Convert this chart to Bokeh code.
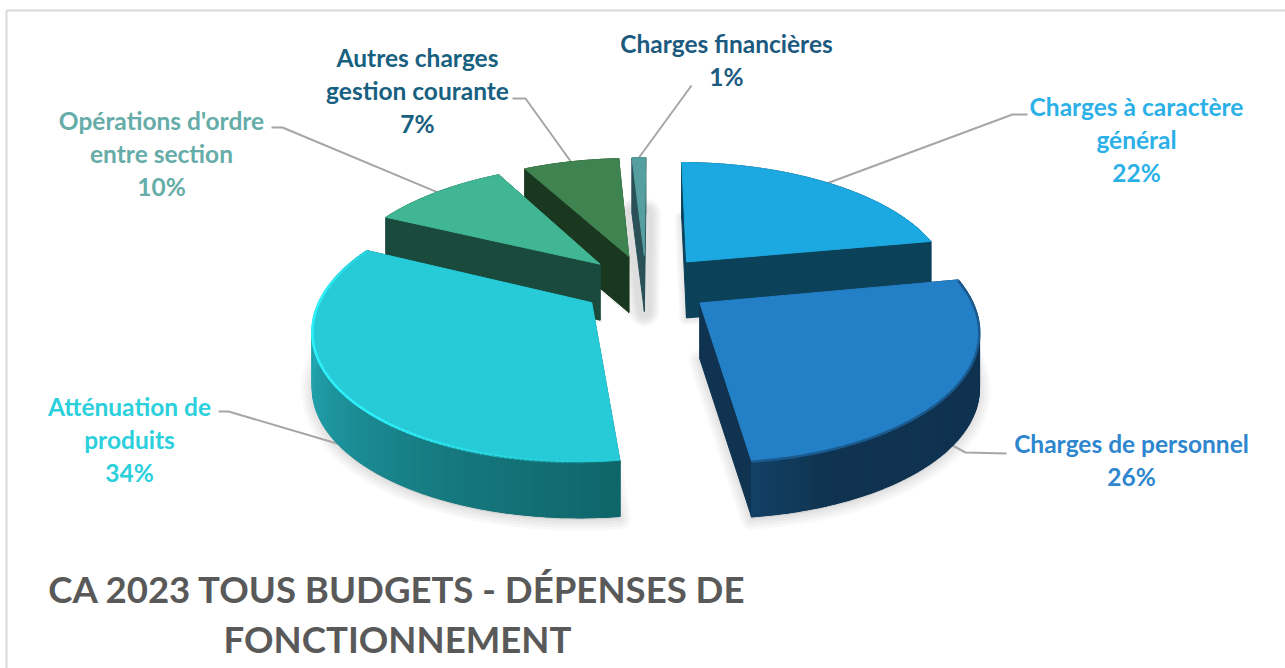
import numpy as np
from bokeh.plotting import figure
from bokeh.embed import file_html
from bokeh.resources import INLINE
from bokeh.core.properties import value

# ---- data (clockwise from 12 o'clock)
categories = ["Charges à caractère général", "Charges de personnel", "Atténuation de produits",
              "Opérations d'ordre entre section", "Autres charges gestion courante", "Charges financières"]
shares = [22, 26, 34, 10, 7, 1]
label_lines = [["Charges à caractère", "général"], ["Charges de personnel"], ["Atténuation de", "produits"],
               ["Opérations d'ordre", "entre section"], ["Autres charges", "gestion courante"], ["Charges financières"]]
title_lines = ["CA 2023 TOUS BUDGETS - DÉPENSES DE", "FONCTIONNEMENT"]

# ---- styles
top_colors = ["#1CA8E0", "#2480C6", "#27CBD8", "#40B694", "#3F8450", "#559FA0"]
wall_colors = ["#0B4159", "#0F3350", "#14696E", "#1A4A3B", "#1A3820", "#2A5058"]
label_colors = ["#2BB0E8", "#2E86CF", "#2BD0DC", "#66ACA8", "#17607F", "#1C5A80"]
rim_stops = {1: [(0, "#0F3350"), (.85, "#0F3350"), (1, "#124064")],
             2: [(0, "#0F666A"), (.25, "#16797F"), (.6, "#209CA6"), (1, "#27B4C0")]}
draw_order = [5, 4, 3, 0, 2, 1]
label_xy = [(1136, 106), (1131, 443), (129, 406), (161, 120), (417, 57), (726, 43)]
elbows = [[(1012, 114), (1027, 114)], [(965, 452), (1006, 453)], [(228, 411), (218, 411)],
          [(282, 127), (271, 127)], [(525, 98), (512, 98)], [(691, 85)]]

# ---- projection of the exploded disc
CX, CY, A, B, K, EXPL, DEPTH, ROT = 645.5, 284, 266, 124, 0.175, 0.245, 56, np.radians(0.3)

def proj(X, Z, drop=0.0):
    s = 1 / (1 - K * Z)
    return CX + A * X * s, CY + B * Z * s + drop

def hex2rgb(h):
    return np.array([int(h[i:i + 2], 16) for i in (1, 3, 5)], float)

def mix(stops, f):
    for (f0, c0), (f1, c1) in zip(stops, stops[1:]):
        if f <= f1:
            t = (f - f0) / (f1 - f0) if f1 > f0 else 0
            r = hex2rgb(c0) * (1 - t) + hex2rgb(c1) * t
            return "#%02x%02x%02x" % tuple(int(round(v)) for v in r)
    return stops[-1][1]

edges = np.cumsum([0] + shares) / sum(shares) * 2 * np.pi + ROT
slices = []
for i in range(len(shares)):
    a0, a1 = edges[i], edges[i + 1]
    mid = (a0 + a1) / 2
    ox, oz = EXPL * np.sin(mid), -EXPL * np.cos(mid)
    th = np.linspace(a0, a1, max(8, int(shares[i] * 4)))
    rx, rz = ox + np.sin(th), oz - np.cos(th)
    slices.append(dict(th=th, rx=rx, rz=rz, ox=ox, oz=oz, mid=mid))

p = figure(width=1285, height=668, x_range=(0, 1285), y_range=(668, 0), toolbar_location=None,
           output_backend="svg", min_border=0, outline_line_color=None, background_fill_color="white",
           styles={"position": "absolute", "left": "0px", "top": "0px"})
p.axis.visible = False
p.grid.visible = False

# frame
p.line([6, 6, 1285], [668, 10, 10], line_color="#D9D9D9", line_width=2)

# soft shadows under each slice
shadow_widths = {0: [14, 10, 6], 1: [22, 16, 10, 5], 2: [22, 16, 10, 5], 3: [6], 4: [6, 3],
                 5: [30, 26, 22, 18, 14]}
for i, sl in enumerate(slices):
    bx, by = proj(np.r_[sl["ox"], sl["rx"]], np.r_[sl["oz"], sl["rz"]], DEPTH + (2 if i in (1, 2) else 0))
    for w in shadow_widths[i]:
        p.patch(bx, by, fill_color="#888888", fill_alpha=0.05, line_color="#888888", line_alpha=0.055,
                line_width=w, line_join="round")

# leaders
for i, sl in enumerate(slices):
    front = i in (1, 2)
    sx, sy = proj(sl["ox"] + np.sin(sl["mid"]), sl["oz"] - np.cos(sl["mid"]), DEPTH if front else 0)
    xs = [sx] + [e[0] for e in elbows[i]]
    ys = [sy] + [e[1] for e in elbows[i]]
    p.line(xs, ys, line_color="#A6A6A6", line_width=2)

# slices, back to front
for i in draw_order:
    sl = slices[i]
    th, rx, rz, ox, oz = sl["th"], sl["rx"], sl["rz"], sl["ox"], sl["oz"]
    wall = wall_colors[i]
    # radial walls
    for k in (0, -1):
        x0, y0 = proj(ox, oz)
        x1, y1 = proj(rx[k], rz[k])
        p.patch([x0, x1, x1, x0], [y0, y1, y1 + DEPTH, y0 + DEPTH], fill_color=wall, line_color=wall, line_width=1)
    # outer wall, flat underlay then strips so that its shading can vary
    tx, ty = proj(rx, rz)
    p.patch(np.r_[tx, tx[::-1]], np.r_[ty, ty[::-1] + DEPTH], fill_color=wall, line_color=wall, line_width=1)
    stops = rim_stops.get(i)
    n = len(th)
    if stops:
        xs, ys, cs = [], [], []
        for j in range(n - 1):
            xs.append([tx[j], tx[j + 1], tx[j + 1], tx[j]])
            ys.append([ty[j], ty[j + 1], ty[j + 1] + DEPTH, ty[j] + DEPTH])
            cs.append(mix(stops, j / (n - 2)))
        p.patches(xs, ys, fill_color=cs, line_color=cs, line_width=1.5)
    # top
    x0, y0 = proj(ox, oz)
    p.patch(np.r_[x0, tx], np.r_[y0, ty], fill_color=top_colors[i], line_color=top_colors[i], line_width=1)
    # bevel
    if i == 2:
        for j in range(n - 1):
            f = j / (n - 2)
            p.line(tx[j:j + 2], ty[j:j + 2] + 0.5, line_color="#2DEFF8", line_width=2.5,
                   line_alpha=float(min(1, f * 2.5, max(0.25, (1 - f) * 5))), line_cap="round")
    if i == 1:
        p.line(tx, ty + 1, line_color="#1B5A8F", line_width=2.5)

# labels
LH = 33
for i, lines in enumerate(label_lines):
    x, y = label_xy[i]
    rows = lines + [f"{shares[i]}%"]
    for r, t in enumerate(rows):
        p.text([x], [y + r * LH], text=[t], text_font=value("Lato"), text_font_style="bold",
               text_font_size="24.5px", text_color=label_colors[i], text_align="center", text_baseline="middle")

for r, t in enumerate(title_lines):
    p.text([397], [588 + r * 50], text=[t], text_font=value("Lato"), text_font_style="bold",
           text_font_size="36.6px", text_color="#595959", text_align="center", text_baseline="middle")

open("out.html", "w").write(file_html(p, INLINE))
